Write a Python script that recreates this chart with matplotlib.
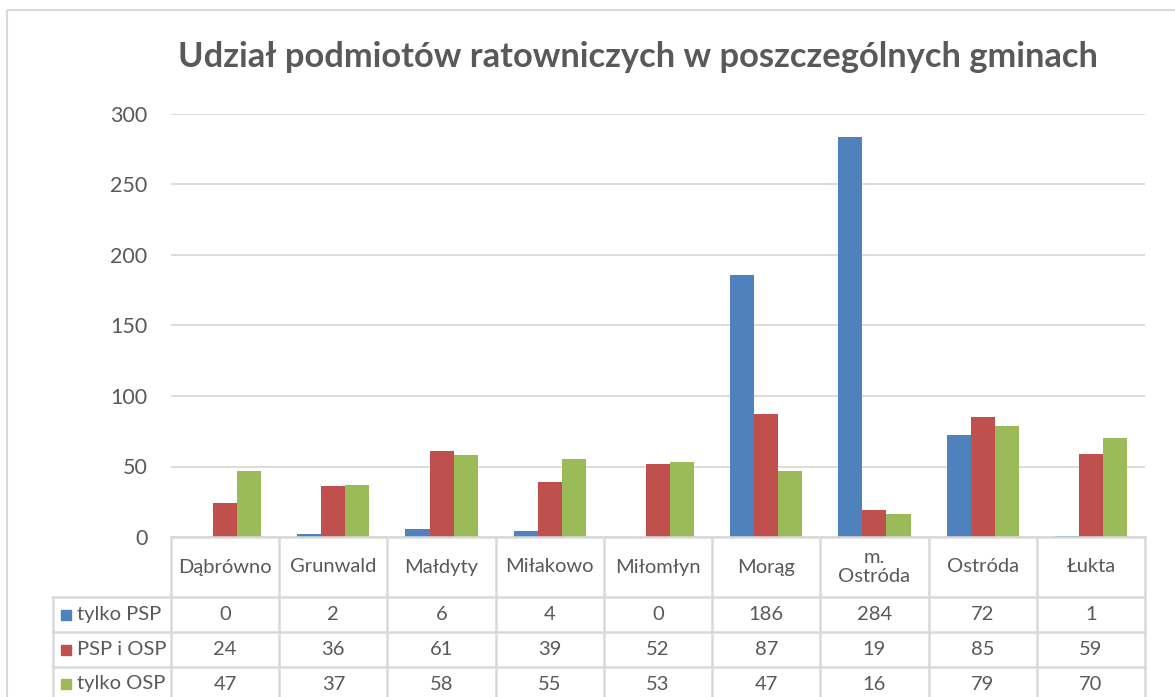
import matplotlib
matplotlib.use("Agg")
import matplotlib.pyplot as plt
import numpy as np
from matplotlib.lines import Line2D
from matplotlib.patches import Rectangle

categories = ["Dąbrówno", "Grunwald", "Małdyty", "Miłakowo", "Miłomłyn",
              "Morąg", "m. Ostróda", "Ostróda", "Łukta"]
series_names = ["tylko PSP", "PSP i OSP", "tylko OSP"]
tylko_psp = [0, 2, 6, 4, 0, 186, 284, 72, 1]
psp_i_osp = [24, 36, 61, 39, 52, 87, 19, 85, 59]
tylko_osp = [47, 37, 58, 55, 53, 47, 16, 79, 70]
yticks = [0, 50, 100, 150, 200, 250, 300]
title = "Udział podmiotów ratowniczych w poszczególnych gminach"

colors = ["#4F81BD", "#C0504D", "#9BBB59"]
txt = "#595959"
grid = "#D9D9D9"
plt.rcParams['font.family'] = ['Lato', 'DejaVu Sans']

W, H = 1175, 697
fig = plt.figure(figsize=(W / 100, H / 100), dpi=100)

# plot area in pixels
px_l, px_r, px_t, px_b = 171, 1145, 114, 537
ax = fig.add_axes([px_l / W, 1 - px_b / H, (px_r - px_l) / W, (px_b - px_t) / H])
n = len(categories)
x = np.arange(n)
bw = 1 / 4.5
for k, vals in enumerate([tylko_psp, psp_i_osp, tylko_osp]):
    ax.bar(x + (k - 1) * bw, vals, width=bw, color=colors[k], zorder=3)
ax.set_xlim(-0.5, n - 0.5)
ax.set_ylim(0, 300)
ax.set_yticks(yticks)
ax.set_yticklabels([str(v) for v in yticks], fontsize=15.5, color=txt)
ax.tick_params(axis='y', length=0, pad=17)
ax.set_xticks([])
for s in ax.spines.values():
    s.set_visible(False)
ax.yaxis.grid(True, color=grid, linewidth=1.3, zorder=0)
ax.set_axisbelow(True)
ax.patch.set_alpha(0)

# overlay for table & border (pixel coords)
ov = fig.add_axes([0, 0, 1, 1], zorder=-1)
ov.set_xlim(0, W)
ov.set_ylim(H, 0)
ov.axis('off')
ov.add_patch(Rectangle((7, 10), W + 20, H + 20, fill=False, edgecolor=grid, linewidth=1.5))

fig.text(638 / W, 1 - 57 / H, title, ha='center', va='center',
         fontsize=24.8, fontweight='bold', color=txt)

ov2 = fig.add_axes([0, 0, 1, 1], zorder=5)
ov2.set_xlim(0, W)
ov2.set_ylim(H, 0)
ov2.axis('off')
ov2.patch.set_alpha(0)

cw = (px_r - px_l) / n
lc = "#D9D9D9"
lw = 1.8
row_tops = [597, 632, 667, 702]
fs = 14.5
# horizontal lines
ov2.add_line(Line2D([px_l, px_r], [px_b, px_b], color=lc, lw=lw))
for y in row_tops:
    ov2.add_line(Line2D([53, px_r], [y, y], color=lc, lw=lw))
# vertical lines
ov2.add_line(Line2D([53, 53], [597, H + 10], color=lc, lw=lw))
for i in range(n + 1):
    xx = px_l + i * cw
    ov2.add_line(Line2D([xx, xx], [px_b, H + 10], color=lc, lw=lw))

# header labels
for i, c in enumerate(categories):
    lab = c.replace(' ', '\n') if len(c) > 9 else c
    ov2.text(px_l + (i + 0.5) * cw, (px_b + 597) / 2, lab, ha='center', va='center',
             fontsize=fs, color=txt, linespacing=1.15)

# rows
for r, (name, vals) in enumerate(zip(series_names, [tylko_psp, psp_i_osp, tylko_osp])):
    yc = (row_tops[r] + row_tops[r + 1]) / 2 if r < 2 else 684
    ov2.add_patch(Rectangle((61, yc - 5), 10, 10, color=colors[r]))
    ov2.text(77, yc, name, ha='left', va='center', fontsize=fs, color=txt)
    for i, v in enumerate(vals):
        ov2.text(px_l + (i + 0.5) * cw, yc, str(v), ha='center', va='center',
                 fontsize=fs, color=txt)

fig.savefig("out.png", dpi=100)
